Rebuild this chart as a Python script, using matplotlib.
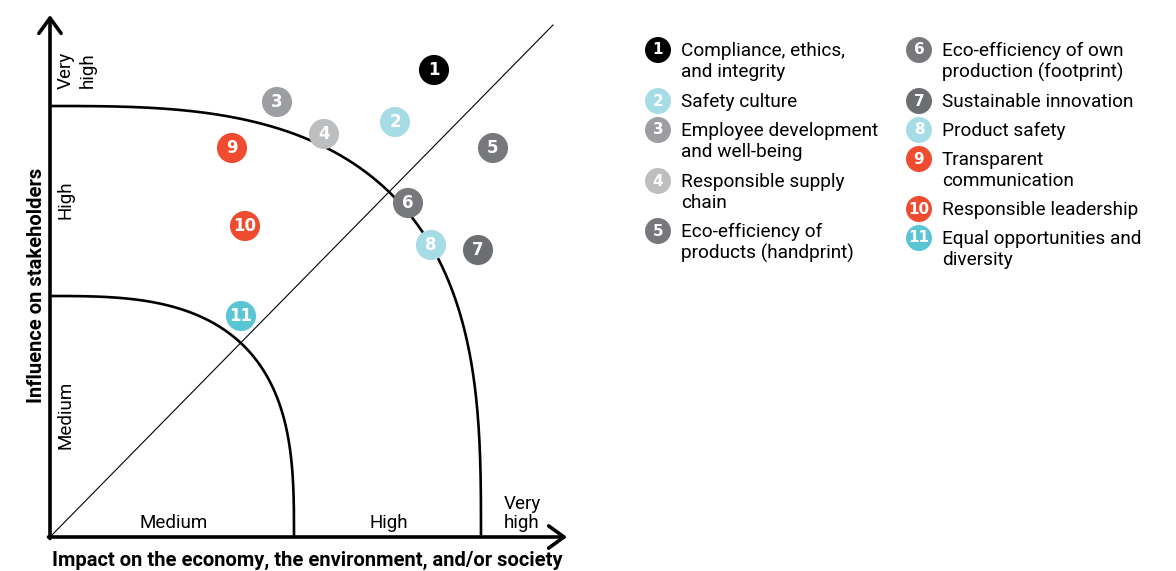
import numpy as np
import matplotlib.pyplot as plt

# topics: position (impact, influence), in chart units
topic_ids = list(range(1, 12))
topic_names = [
    "Compliance, ethics,\nand integrity",
    "Safety culture",
    "Employee development\nand well-being",
    "Responsible supply\nchain",
    "Eco-efficiency of\nproducts (handprint)",
    "Eco-efficiency of own\nproduction (footprint)",
    "Sustainable innovation",
    "Product safety",
    "Transparent\ncommunication",
    "Responsible leadership",
    "Equal opportunities and\ndiversity",
]
impact = [7.68, 6.90, 4.54, 5.48, 8.86, 7.16, 8.56, 7.62, 3.64, 3.90, 3.82]
influence = [9.34, 8.30, 8.70, 8.06, 7.78, 6.68, 5.74, 5.84, 7.78, 6.22, 4.42]
colors = ["#000000", "#a6dce6", "#9d9ea1", "#bcbec0", "#77787b", "#77787b",
          "#6d6e71", "#a6dce6", "#ee4b2f", "#ee4b2f", "#5bc5d6"]

y_levels = ["Medium", "High", "Very\nhigh"]
x_levels = ["Medium", "High", "Very\nhigh"]

plt.rcParams['font.family'] = ['Roboto', 'DejaVu Sans']

W, H = 1176, 571
fig = plt.figure(figsize=(W / 100, H / 100), dpi=100)

# chart axes: origin at pixel (50, 537), 1 unit = 50 px
ax = fig.add_axes([50 / W, 34 / H, 550 / W, 530 / H])
ax.set_xlim(0, 11)
ax.set_ylim(0, 10.6)
ax.axis('off')

arrow = dict(arrowstyle='->,head_length=0.55,head_width=0.4', lw=2.6,
             color='black', shrinkA=0, shrinkB=0, mutation_scale=20)
ax.annotate('', xy=(0, 10.44), xytext=(0, -0.03), arrowprops=arrow)
ax.annotate('', xy=(10.34, 0), xytext=(-0.03, 0), arrowprops=arrow)

ax.plot([0, 10.06], [0, 10.24], color='black', lw=0.8)

t = np.linspace(0, np.pi / 2, 300)
for a, b in [(4.88, 4.82), (8.62, 8.62)]:
    n = 3.0
    ax.plot(a * np.cos(t) ** (2 / n), b * np.sin(t) ** (2 / n),
            color='black', lw=1.9, solid_capstyle='butt')

# level labels
for lab, xpos, ypos in zip(y_levels, [0.32, 0.32, 0.54], [2.44, 6.74, 9.34]):
    ax.text(xpos, ypos, lab, rotation=90, ha='center', va='center',
            fontsize=13.5, linespacing=1.3)
for lab, xpos in zip(x_levels, [2.48, 6.78, 9.44]):
    ax.text(xpos, 0.1, lab, ha='center', va='bottom', fontsize=13.5,
            linespacing=1.1)

ax.text(-0.26, 5.04, "Influence on stakeholders", rotation=90, ha='center',
        va='center', fontsize=14.5, fontweight='bold')
ax.text(5.14, -0.46, "Impact on the economy, the environment, and/or society",
        ha='center', va='center', fontsize=14.5, fontweight='bold')

ax.scatter(impact, influence, s=470, c=colors, edgecolors='none', zorder=3,
           clip_on=False)
for i, x, y in zip(topic_ids, impact, influence):
    ax.text(x, y, str(i), ha='center', va='center', color='white',
            fontsize=12, fontweight='bold', zorder=4,
            family=['DejaVu Sans'])

# legend, pixel coordinates
lg = fig.add_axes([0, 0, 1, 1])
lg.set_xlim(0, W)
lg.set_ylim(H, 0)
lg.axis('off')
col_x = [658, 919]
row_y = [50, 101, 130, 181, 231, 50, 101, 130, 159, 209, 238]
for k, (i, name, c) in enumerate(zip(topic_ids, topic_names, colors)):
    cx = col_x[0] if k < 5 else col_x[1]
    cy = row_y[k]
    lg.scatter([cx], [cy], s=350, c=[c], edgecolors='none')
    lg.text(cx, cy, str(i), ha='center', va='center', color='white',
            fontsize=11, fontweight='bold', family=['DejaVu Sans'])
    lg.text(cx + 23, cy - 8, name, ha='left', va='top', fontsize=13.7,
            linespacing=1.2)

fig.savefig('out.png', dpi=100)
